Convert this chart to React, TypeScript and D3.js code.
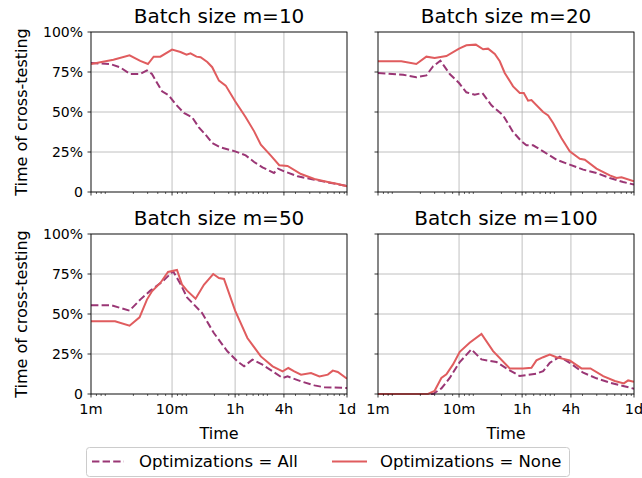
import React from "react";
import * as d3 from "d3";

// time in minutes, value as fraction
const p10NoneT = [1, 1.89, 2.99, 4.05, 5.04, 5.93, 7.17, 10, 12.7, 15.1, 16.9, 20, 22.5, 27.2, 31.3, 37.9, 45.9, 60, 81, 103, 124.5, 165.6, 210, 266, 390, 570, 835, 1110, 1440];
const p10NoneV = [0.80, 0.827, 0.854, 0.82, 0.80, 0.846, 0.846, 0.89, 0.875, 0.858, 0.867, 0.846, 0.842, 0.8125, 0.78, 0.696, 0.665, 0.567, 0.467, 0.379, 0.296, 0.227, 0.167, 0.1625, 0.1125, 0.081, 0.0625, 0.05, 0.035];
const p10AllT = [1, 1.72, 2.29, 3.04, 4.05, 4.9, 5.65, 7.52, 9.1, 11, 14, 17.7, 21.4, 25.9, 31.3, 39.7, 60, 81, 103, 130.5, 181, 203, 242, 355, 570, 918, 1440];
const p10AllV = [0.806, 0.80, 0.779, 0.7375, 0.7375, 0.76, 0.7375, 0.629, 0.604, 0.55, 0.494, 0.467, 0.404, 0.358, 0.306, 0.279, 0.254, 0.229, 0.1875, 0.154, 0.119, 0.146, 0.129, 0.098, 0.077, 0.056, 0.0375];

const p20NoneT = [1, 1.94, 2.97, 3.95, 5.0, 6.98, 10, 12.3, 16.1, 19.8, 22.8, 27.6, 31.8, 36.6, 46.4, 56.1, 62.9, 71.1, 78.2, 109, 125.6, 144.7, 183, 232, 309, 356, 496, 724, 876, 1010, 1440];
const p20NoneV = [0.817, 0.817, 0.80, 0.846, 0.8375, 0.85, 0.896, 0.917, 0.921, 0.892, 0.896, 0.8625, 0.817, 0.744, 0.66, 0.619, 0.619, 0.571, 0.575, 0.5, 0.479, 0.431, 0.3375, 0.254, 0.208, 0.202, 0.146, 0.104, 0.0875, 0.092, 0.067];
const p20AllT = [1, 2.04, 2.97, 3.95, 4.77, 5.88, 7.67, 10, 12.3, 15.6, 19.4, 25.1, 34.9, 46.4, 58.8, 67.8, 82, 109, 159, 232, 340, 496, 724, 1059, 1440];
const p20AllV = [0.744, 0.733, 0.717, 0.729, 0.785, 0.821, 0.7375, 0.681, 0.623, 0.608, 0.619, 0.542, 0.479, 0.375, 0.317, 0.292, 0.292, 0.254, 0.202, 0.171, 0.14, 0.119, 0.0875, 0.0625, 0.046];

const p50NoneT = [1, 1.98, 2.99, 3.97, 4.9, 5.65, 7.17, 8.92, 11.5, 13.3, 15.3, 19.5, 24.7, 32.2, 37.9, 43.7, 60, 85, 124.5, 174, 231, 272, 322, 390, 518, 658, 835, 962, 1110, 1440];
const p50NoneV = [0.454, 0.454, 0.427, 0.479, 0.59, 0.642, 0.694, 0.7625, 0.775, 0.683, 0.646, 0.596, 0.683, 0.75, 0.725, 0.719, 0.521, 0.35, 0.235, 0.173, 0.142, 0.1625, 0.142, 0.121, 0.131, 0.11, 0.121, 0.146, 0.1375, 0.096];
const p50AllT = [1, 1.8, 2.99, 4.05, 5.39, 7.52, 10.3, 12.7, 15.3, 23.5, 32.8, 48.1, 63.9, 77.3, 98, 130.5, 174, 231, 266, 390, 570, 759, 1440];
const p50AllV = [0.554, 0.554, 0.521, 0.59, 0.646, 0.7, 0.767, 0.6875, 0.604, 0.506, 0.381, 0.267, 0.204, 0.173, 0.215, 0.183, 0.142, 0.1, 0.11, 0.079, 0.054, 0.042, 0.0375];

const p100NoneT = [1, 4.14, 5.0, 6.05, 6.98, 8.43, 10.2, 13.5, 18.9, 26.3, 42.2, 61.7, 78.2, 90.1, 109, 131.6, 159, 232, 324, 418, 600, 835, 1079, 1220, 1440];
const p100NoneV = [0, 0, 0.02, 0.1, 0.123, 0.185, 0.264, 0.32, 0.376, 0.268, 0.16, 0.16, 0.164, 0.21, 0.23, 0.247, 0.23, 0.21, 0.16, 0.16, 0.112, 0.081, 0.066, 0.085, 0.077];
const p100AllT = [1, 4.77, 6.05, 7.67, 10.2, 14.2, 18.9, 28.9, 38.4, 56.1, 90.1, 109, 131.6, 175, 232, 340, 496, 724, 1059, 1440];
const p100AllV = [0, 0, 0.035, 0.1, 0.2, 0.279, 0.216, 0.2, 0.16, 0.112, 0.127, 0.143, 0.195, 0.233, 0.195, 0.133, 0.098, 0.071, 0.05, 0.033];

const batchSizes = [10, 20, 50, 100];
const xTickValues = [1, 10, 60, 240, 1440];
const xTickLabels = ["1m", "10m", "1h", "4h", "1d"];
const yTickValues = [0, 0.25, 0.5, 0.75, 1];
const yTickLabels = ["0", "25%", "50%", "75%", "100%"];
const seriesNames = ["Optimizations = All", "Optimizations = None"];

const COLOR_ALL = "#9a3675";
const COLOR_NONE = "#e05c5e";
const FONT = "DejaVu Sans";

const panelsData = [
  { none: [p10NoneT, p10NoneV], all: [p10AllT, p10AllV] },
  { none: [p20NoneT, p20NoneV], all: [p20AllT, p20AllV] },
  { none: [p50NoneT, p50NoneV], all: [p50AllT, p50AllV] },
  { none: [p100NoneT, p100NoneV], all: [p100AllT, p100AllV] },
];

// minor ticks (in seconds, converted to minutes)
const minorTicks: number[] = [];
for (let k = 1; k <= 4; k++) {
  for (let m = 2; m <= 9; m++) {
    const s = m * Math.pow(10, k);
    if (s > 60 && s < 86400 && s !== 600) minorTicks.push(s / 60);
  }
}

const W = 256;
const H = 160;
const lefts = [91, 378];
const tops = [32, 234];

function Panel({ idx }: { idx: number }) {
  const col = idx % 2;
  const row = Math.floor(idx / 2);
  const x0 = lefts[col];
  const y0 = tops[row];
  const x = d3.scaleLog().domain([1, 1440]).range([0, W]);
  const y = d3.scaleLinear().domain([0, 1]).range([H, 0]);
  const line = d3
    .line<[number, number]>()
    .x((d) => x(d[0]))
    .y((d) => y(d[1]));
  const pd = panelsData[idx];
  const toPts = (s: number[][]) => s[0].map((t, i) => [t, s[1][i]] as [number, number]);
  return (
    <g transform={`translate(${x0},${y0})`}>
      {xTickValues.map((t, i) => (
        <line key={"gx" + i} x1={x(t)} x2={x(t)} y1={0} y2={H} stroke="#b0b0b0" strokeWidth={0.8} />
      ))}
      {yTickValues.map((v, i) => (
        <line key={"gy" + i} x1={0} x2={W} y1={y(v)} y2={y(v)} stroke="#b0b0b0" strokeWidth={0.8} />
      ))}
      <defs>
        <clipPath id={"clip" + idx}>
          <rect x={0} y={-2} width={W} height={H + 4} />
        </clipPath>
      </defs>
      <g clipPath={`url(#clip${idx})`}>
        <path d={line(toPts(pd.all)) || ""} fill="none" stroke={COLOR_ALL} strokeWidth={2} strokeDasharray="7.4,3.2" />
        <path d={line(toPts(pd.none)) || ""} fill="none" stroke={COLOR_NONE} strokeWidth={2} />
      </g>
      <rect x={0} y={0} width={W} height={H} fill="none" stroke="#000" strokeWidth={0.8} />
      {xTickValues.map((t, i) => (
        <line key={"tx" + i} x1={x(t)} x2={x(t)} y1={H} y2={H + 3.5} stroke="#000" strokeWidth={0.8} />
      ))}
      {minorTicks.map((t, i) => (
        <line key={"mx" + i} x1={x(t)} x2={x(t)} y1={H} y2={H + 2} stroke="#000" strokeWidth={0.6} />
      ))}
      {yTickValues.map((v, i) => (
        <line key={"ty" + i} x1={-3.5} x2={0} y1={y(v)} y2={y(v)} stroke="#000" strokeWidth={0.8} />
      ))}
      {col === 0 &&
        yTickValues.map((v, i) => (
          <text key={"ly" + i} x={-8} y={y(v)} dy="0.36em" textAnchor="end" fontSize={14} fill="#000">
            {yTickLabels[i]}
          </text>
        ))}
      {row === 1 &&
        xTickValues.map((t, i) => (
          <text key={"lx" + i} x={x(t)} y={H + 20} textAnchor="middle" fontSize={14.5} fill="#000">
            {xTickLabels[i]}
          </text>
        ))}
      {row === 1 && (
        <text x={W / 2} y={H + 45} textAnchor="middle" fontSize={16} fill="#000">
          Time
        </text>
      )}
      {col === 0 && (
        <text transform={`translate(${-64},${H / 2}) rotate(-90)`} textAnchor="middle" fontSize={16} fill="#000">
          Time of cross-testing
        </text>
      )}
      <text x={W / 2} y={-9} textAnchor="middle" fontSize={20} fill="#000">
        {`Batch size m=${batchSizes[idx]}`}
      </text>
    </g>
  );
}

export default function App() {
  return (
    <svg
      width={642}
      height={478}
      style={{ position: "absolute", left: 0, top: 0, background: "#fff" }}
      fontFamily={FONT}
    >
      <rect x={0} y={0} width={642} height={478} fill="#fff" />
      {[0, 1, 2, 3].map((i) => (
        <Panel key={i} idx={i} />
      ))}
      <g transform="translate(86,447)">
        <rect x={0.5} y={0.5} width={483} height={29} rx={3} fill="#fff" stroke="#cccccc" strokeWidth={1} />
        <line x1={6} x2={38} y1={14.5} y2={14.5} stroke={COLOR_ALL} strokeWidth={2} strokeDasharray="7.4,3.2" />
        <text x={53} y={14.5} dy="0.36em" fontSize={16.5} fill="#000">
          {seriesNames[0]}
        </text>
        <line x1={246} x2={281} y1={14.5} y2={14.5} stroke={COLOR_NONE} strokeWidth={2} />
        <text x={294} y={14.5} dy="0.36em" fontSize={16.5} fill="#000">
          {seriesNames[1]}
        </text>
      </g>
    </svg>
  );
}
